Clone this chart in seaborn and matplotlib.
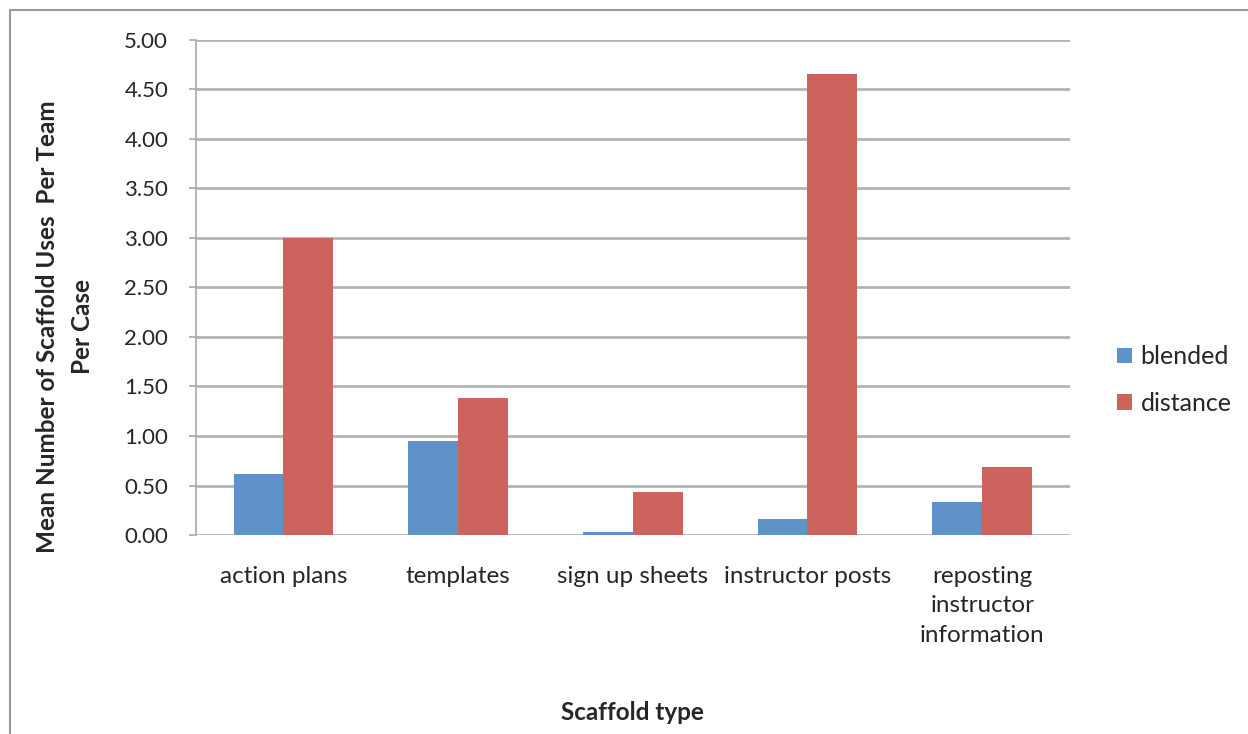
import pandas as pd
import matplotlib.pyplot as plt
import seaborn as sns
from matplotlib.patches import Rectangle

# Podaci ocitani sa grafika
categories = ["action plans", "templates", "sign up sheets", "instructor posts",
              "reposting\ninstructor\ninformation"]
blended = [0.62, 0.95, 0.03, 0.16, 0.33]
distance = [3.00, 1.38, 0.43, 4.65, 0.69]
series = ["blended", "distance"]
yticks = [0.0, 0.5, 1.0, 1.5, 2.0, 2.5, 3.0, 3.5, 4.0, 4.5, 5.0]

df = pd.DataFrame({
    "Scaffold": categories * 2,
    "Mode": ["blended"] * len(categories) + ["distance"] * len(categories),
    "Mean": blended + distance,
})

sns.set_style("white")
plt.rcParams["font.family"] = ["Lato", "DejaVu Sans"]

fig = plt.figure(figsize=(12.48, 7.34), dpi=100)
ax = fig.add_axes([0.157, 0.271, 0.700, 0.675])

sns.barplot(data=df, x="Scaffold", y="Mean", hue="Mode", hue_order=series,
            palette={"blended": "#5f92c9", "distance": "#cc635d"},
            width=0.57, ax=ax, saturation=1, linewidth=0)

ax.set_ylim(0, 5)
ax.set_xlim(-0.5, len(categories) - 0.5)
ax.set_yticks(yticks)
ax.set_yticklabels([f"{v:.2f}" for v in yticks], fontsize=16)
ax.set_xticks(range(len(categories)))
ax.set_xticklabels(categories, fontsize=17.5, linespacing=1.5)
ax.tick_params(axis="x", length=0, pad=22)
ax.tick_params(axis="y", length=5, width=1.2, color="#a8a8a8", left=True, pad=15)
ax.yaxis.grid(True, color="#b4b4b4", linewidth=2)
ax.set_axisbelow(True)
for s in ["top", "right", "bottom"]:
    ax.spines[s].set_visible(False)
ax.spines["left"].set_color("#a8a8a8")
ax.spines["left"].set_linewidth(1.2)

ax.set_xlabel("Scaffold type", fontsize=17.5, fontweight="bold", labelpad=40)
ax.set_ylabel("Mean Number of Scaffold Uses  Per Team\nPer Case", fontsize=17.5,
              fontweight="bold", linespacing=1.6, va="center")
ax.yaxis.set_label_coords(-0.15, 0.42)

ax.legend(loc="center left", bbox_to_anchor=(0.877, 0.482), bbox_transform=fig.transFigure,
          frameon=False, fontsize=18, handlelength=0.6, handleheight=0.6,
          handletextpad=0.35, labelspacing=0.95)

# okvir oko grafikona
fig.patches.append(Rectangle((10 / 1248, -0.1), 1.2, 0.1 + (724 / 734), transform=fig.transFigure,
                             fill=False, edgecolor="#9a9a9a", linewidth=1.5))

plt.savefig("out.png", dpi=100)
plt.close()
